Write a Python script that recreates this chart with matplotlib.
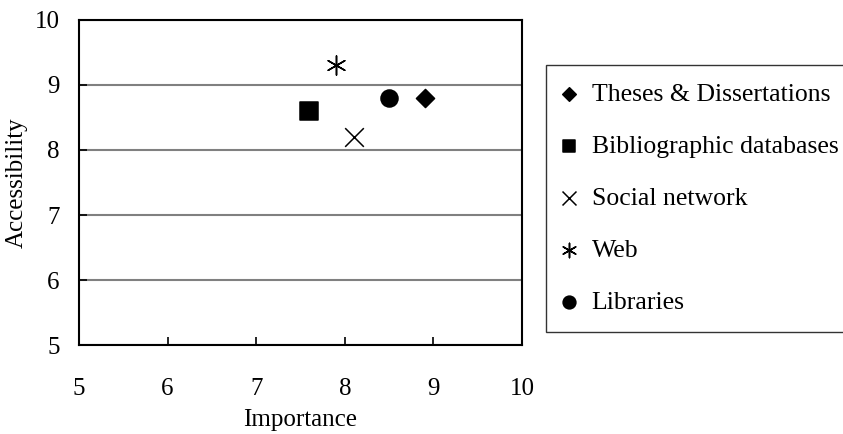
import matplotlib.pyplot as plt

plt.rcParams['font.family'] = ['Liberation Serif', 'DejaVu Serif']

# data
labels = ['Theses & Dissertations', 'Bibliographic databases', 'Social network', 'Web', 'Libraries']
importance = [8.9, 7.6, 8.1, 7.9, 8.5]
accessibility = [8.8, 8.6, 8.2, 9.3, 8.8]
markers = ['D', 's', 'x', (6, 2, 0), 'o']
sizes = [85, 150, 180, 190, 150]

fig = plt.figure(figsize=(8.43, 4.34), dpi=100)
ax = fig.add_axes([0.0937, 0.205, 0.5255, 0.749])

handles = []
for lab, xv, yv, m, s in zip(labels, importance, accessibility, markers, sizes):
    h = ax.scatter([xv], [yv], marker=m, s=s, color='black', linewidths=1.1, label=lab, zorder=3)
    handles.append(h)

ax.set_xlim(5, 10)
ax.set_ylim(5, 10)
ax.set_xticks(range(5, 11))
ax.set_yticks(range(5, 11))
ax.yaxis.grid(True, color='#808080', linewidth=1.5)
ax.set_axisbelow(True)
ax.tick_params(direction='in', length=6, width=1.2, labelsize=18)
ax.tick_params(axis='x', pad=24)
ax.tick_params(axis='y', pad=14)
for sp in ax.spines.values():
    sp.set_linewidth(1.5)
ax.set_xlabel('Importance', fontsize=18, labelpad=6)
ax.set_ylabel('Accessibility', fontsize=18, labelpad=5)

leg = fig.legend(handles=handles, labels=labels, loc='upper left',
                 bbox_to_anchor=(546 / 843, 1 - 65 / 434), fontsize=18.5,
                 frameon=True, fancybox=False, edgecolor='black',
                 handlelength=0.4, handletextpad=0.68, labelspacing=1.13,
                 borderpad=0.7, borderaxespad=0, scatterpoints=1,
                 markerscale=0.75)
leg.get_frame().set_linewidth(1.0)

fig.savefig('out.png', dpi=100)
